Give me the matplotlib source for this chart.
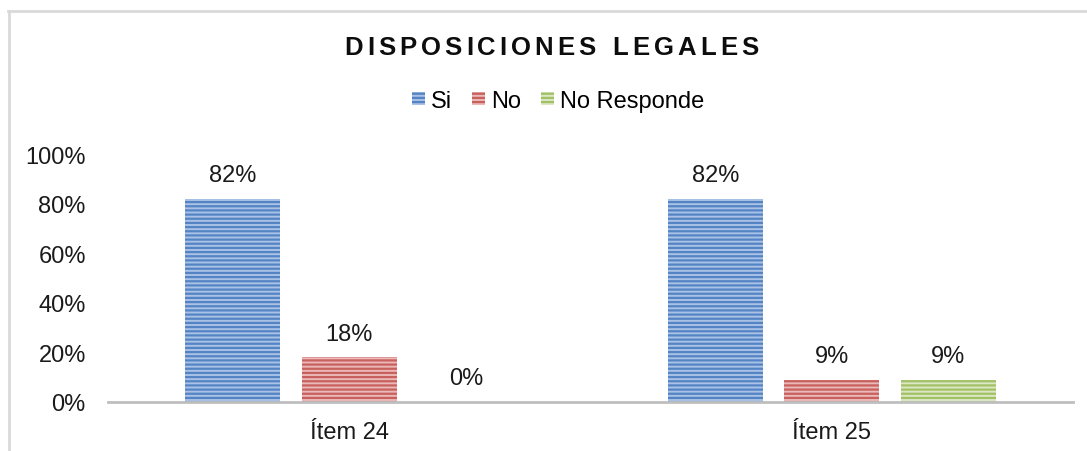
import matplotlib.pyplot as plt
from matplotlib.lines import Line2D
from matplotlib.patches import Patch
import numpy as np

plt.rcParams['font.family'] = ['Liberation Sans', 'DejaVu Sans']
plt.rcParams['hatch.linewidth'] = 1.6

categories = ['Ítem 24', 'Ítem 25']
series = ['Si', 'No', 'No Responde']
si = [0.82, 0.82]
no = [0.18, 0.09]
no_responde = [0.00, 0.09]
labels = [['82%', '82%'], ['18%', '9%'], ['0%', '9%']]
title = 'DISPOSICIONES LEGALES'

faces = ['#A9C2E6', '#EBB9B8', '#DCE8C4']
edges = ['#5584C4', '#C8605D', '#A2C166']

W, H = 1087, 452
fig = plt.figure(figsize=(W / 100, H / 100), dpi=100)
ax = fig.add_axes([108 / W, 1 - 403 / H, (1073 - 108) / W, 248 / H])

x = np.arange(len(categories))
width = 0.197
step = 0.2415
for i, vals in enumerate([si, no, no_responde]):
    pos = x + (i - 1) * step
    ax.bar(pos, vals, width, color=faces[i], edgecolor=edges[i], hatch='----',
           linewidth=0)
    for p, v, t in zip(pos, vals, labels[i]):
        ax.annotate(t, (p, v), xytext=(0, 9), textcoords='offset points',
                    ha='center', va='bottom', fontsize=17, color='#1a1a1a')

ax.set_xlim(-0.5, 1.5)
ax.set_ylim(0, 1)
ax.set_yticks([0, 0.2, 0.4, 0.6, 0.8, 1.0])
ax.set_yticklabels(['0%', '20%', '40%', '60%', '80%', '100%'])
ax.set_xticks(x)
ax.set_xticklabels(categories)
ax.tick_params(axis='both', length=0, labelsize=17, colors='#1a1a1a')
ax.tick_params(axis='y', pad=16)
ax.tick_params(axis='x', pad=14)
for s in ['top', 'right', 'left']:
    ax.spines[s].set_visible(False)
ax.spines['bottom'].set_color('#BFBFBF')
ax.spines['bottom'].set_linewidth(2)

# letter-spaced title, placed char by char
fig.canvas.draw()
r = fig.canvas.get_renderer()
tsize = 18.5
tracking = 4.0
space_w = 9.0
widths = []
for ch in title:
    if ch == ' ':
        widths.append(space_w)
        continue
    t = fig.text(0, 0, ch, fontsize=tsize, fontweight='bold')
    widths.append(t.get_window_extent(r).width)
    t.remove()
total = sum(widths) + tracking * (len(title) - 1)
xpos = 551.5 - total / 2
for ch, w in zip(title, widths):
    if ch != ' ':
        fig.text(xpos / W, 1 - 48 / H, ch, ha='left', va='center', fontsize=tsize,
                 fontweight='bold', color='#0d0d0d')
    xpos += w + tracking

handles = [Patch(facecolor=faces[i], edgecolor=edges[i], hatch='----', linewidth=0)
           for i in range(3)]
fig.legend(handles, series, loc='center', bbox_to_anchor=(558 / W, 1 - 102 / H),
           ncol=3, frameon=False, fontsize=17, handlelength=0.55, handleheight=0.5,
           handletextpad=0.25, columnspacing=0.85)

# chart frame (cut at right and bottom)
fig.add_artist(Line2D([8.5 / W, 8.5 / W], [0, 1 - 11.5 / H],
                      color='#D9D9D9', linewidth=2, transform=fig.transFigure))
fig.add_artist(Line2D([8 / W, 1], [1 - 11.5 / H, 1 - 11.5 / H],
                      color='#D9D9D9', linewidth=2, transform=fig.transFigure))

fig.savefig('out.png', dpi=100)
